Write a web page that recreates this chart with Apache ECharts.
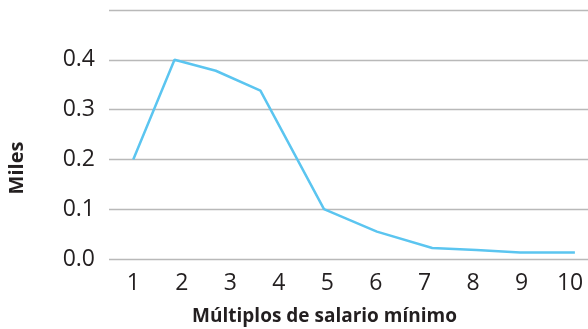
<!DOCTYPE html>
<html>
<head>
<meta charset="utf-8">
<script src="https://cdn.jsdelivr.net/npm/echarts@6/dist/echarts.min.js"></script>
<style>
  html, body { margin: 0; padding: 0; background: #fff; }
  #chart { width: 588px; height: 329px; }
</style>
</head>
<body>
<div id="chart"></div>
<script>
// Multiples of the minimum wage (x) against thousands of people (y)
const xValues = [1, 1.85, 2.7, 3.62, 4.93, 6.02, 7.16, 8.07, 8.97, 10.1];
const yValues = [0.2, 0.4, 0.378, 0.338, 0.1, 0.055, 0.022, 0.018, 0.013, 0.013];
const xTickLabels = ['1', '2', '3', '4', '5', '6', '7', '8', '9', '10'];
const yTickLabels = ['0.0', '0.1', '0.2', '0.3', '0.4'];
const xTitle = 'Múltiplos de salario mínimo';
const yTitle = 'Miles';

const points = xValues.map((x, i) => [x, yValues[i]]);
const font = '"Open Sans", "Noto Sans", sans-serif';
const ink = '#231f20';

const chart = echarts.init(document.getElementById('chart'));
chart.setOption({
  animation: false,
  grid: { left: 109, right: 0, top: 10, bottom: 70, outerBoundsMode: 'none' },
  xAxis: {
    type: 'value',
    min: 0.5,
    max: 10.37,
    interval: 0.5,
    axisLine: { show: false },
    axisTick: { show: false },
    splitLine: { show: false },
    axisLabel: {
      showMaxLabel: false,
      margin: 13,
      fontFamily: font,
      fontSize: 23,
      color: ink,
      formatter: v => {
        const i = xTickLabels.indexOf(String(v));
        return i >= 0 ? xTickLabels[i] : '';
      }
    }
  },
  yAxis: {
    type: 'value',
    min: 0,
    max: 0.5,
    interval: 0.1,
    axisLine: { show: false },
    axisTick: { show: false },
    splitLine: { lineStyle: { color: '#b9b9b9', width: 1.3 } },
    axisLabel: {
      margin: 14,
      fontFamily: font,
      fontSize: 23,
      color: ink,
      formatter: (v, idx) => yTickLabels[idx] !== undefined ? yTickLabels[idx] : ''
    }
  },
  graphic: [
    {
      type: 'text',
      x: 324.5, y: 317,
      style: {
        text: xTitle, fontFamily: font, fontWeight: 'bold', fontSize: 19,
        fill: ink, align: 'center', verticalAlign: 'middle'
      }
    },
    {
      type: 'text',
      x: 17, y: 168, rotation: Math.PI / 2,
      style: {
        text: yTitle, fontFamily: font, fontWeight: 'bold', fontSize: 20,
        fill: ink, align: 'center', verticalAlign: 'middle'
      }
    }
  ],
  series: [{
    type: 'line',
    data: points,
    showSymbol: false,
    lineStyle: { color: '#5bc5f0', width: 2.5 },
    itemStyle: { color: '#5bc5f0' }
  }]
});
</script>
</body>
</html>
